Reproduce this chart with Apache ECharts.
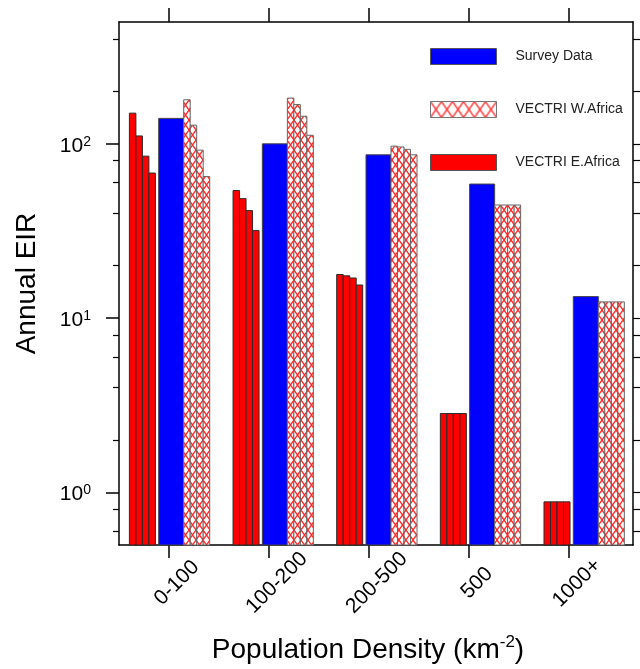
<!DOCTYPE html>
<html>
<head>
<meta charset="utf-8">
<script src="https://cdn.jsdelivr.net/npm/echarts@6/dist/echarts.min.js"></script>
<style>
html,body{margin:0;padding:0;background:#fff;}
#chart{width:640px;height:669px;}
</style>
</head>
<body>
<div id="chart"></div>
<script>
// ---------------- data ----------------
const categories = ['0-100', '100-200', '200-500', '500', '1000+'];
const surveyData = [140, 100, 86.5, 58.8, 13.3];
const westAfrica = [
  [179, 128, 92, 65],
  [183, 168, 144, 112],
  [97, 96, 93, 86.5],
  [44.6, 44.6, 44.6, 44.6],
  [12.4, 12.4, 12.4, 12.4]
];
const eastAfrica = [
  [150, 111, 85, 68],
  [54, 48.5, 41.4, 31.8],
  [17.8, 17.5, 17.0, 15.5],
  [2.84, 2.84, 2.84, 2.84],
  [0.884, 0.884, 0.884, 0.884]
];
const yMajorTicks = [1, 10, 100];
const yMinorTicks = [0.6, 0.8, 2, 4, 6, 8, 20, 40, 60, 80, 200, 400];
const xTickValues = [0, 1, 2, 3, 4];

// ---------------- layout constants ----------------
const Y_MIN = 0.5, Y_MAX = 500;
const X_MIN = -0.5, X_MAX = 4.64;
const GROUP_STEP = 1.0365, GROUP_OFF = -0.103;
const SUB_W = 0.065, BLUE_W = 0.25, RED_OFF = -0.293;
const LABEL_SHIFT = 0.08;
const FONT = '"Liberation Sans", Arial, Helvetica, sans-serif';

function makeHatch(w, h, color, lw) {
  const c = document.createElement('canvas');
  c.width = w; c.height = h;
  const ctx = c.getContext('2d');
  ctx.fillStyle = '#ffffff';
  ctx.fillRect(0, 0, w, h);
  ctx.strokeStyle = color;
  ctx.lineWidth = lw;
  ctx.beginPath();
  ctx.moveTo(0, 0); ctx.lineTo(w, h);
  ctx.moveTo(w, 0); ctx.lineTo(0, h);
  ctx.stroke();
  return c;
}
const hatchBar = { image: makeHatch(7, 10, '#ff2a2a', 1.3), repeat: 'repeat' };
const hatchLegend = { image: makeHatch(11, 16, '#ff2a2a', 1.3), repeat: 'repeat' };

function groupStart(cat) { return GROUP_OFF + GROUP_STEP * cat; }

function rectItem(api, x0, w, v, style) {
  const p1 = api.coord([x0, v]);
  const p2 = api.coord([x0 + w, Y_MIN]);
  return {
    type: 'rect',
    shape: { x: p1[0], y: p1[1], width: p2[0] - p1[0], height: p2[1] - p1[1] },
    style: style
  };
}

const redData = [], westData = [], blueData = [];
eastAfrica.forEach((arr, c) => arr.forEach((v, s) => redData.push([c, s, v])));
westAfrica.forEach((arr, c) => arr.forEach((v, s) => westData.push([c, s, v])));
surveyData.forEach((v, c) => blueData.push([c, 0, v]));

const redStyle = { fill: '#ff0000', stroke: '#2a2a2a', lineWidth: 1 };
const blueStyle = { fill: '#0000ff', stroke: '#444444', lineWidth: 1 };
const westStyle = { fill: hatchBar, stroke: '#666666', lineWidth: 1 };

const chart = echarts.init(document.getElementById('chart'), null, { renderer: 'canvas' });

const supLabel = v => '{b|10}{s|' + Math.round(Math.log10(v)) + '}';

const option = {
  animation: false,
  backgroundColor: '#ffffff',
  grid: { left: 119, right: 7, top: 22, bottom: 124, containLabel: false },
  legend: {
    orient: 'vertical', left: 430, top: 48, padding: 0,
    itemWidth: 66, itemHeight: 16, itemGap: 36,
    selectedMode: false, icon: 'rect',
    textStyle: { fontSize: 14, color: '#222', fontFamily: FONT, padding: [0, 0, 0, 14] },
    data: [
      { name: 'Survey Data', itemStyle: { color: '#0000ff', borderColor: '#555', borderWidth: 1 } },
      { name: 'VECTRI W.Africa', itemStyle: { color: hatchLegend, borderColor: '#777', borderWidth: 1 } },
      { name: 'VECTRI E.Africa', itemStyle: { color: '#ff0000', borderColor: '#555', borderWidth: 1 } }
    ]
  },
  xAxis: [
    {
      type: 'value', position: 'bottom', min: X_MIN, max: X_MAX,
      name: '{a|Population Density (km}{s|-2}{a|)}',
      nameLocation: 'middle', nameGap: 89,
      nameTextStyle: {
        padding: [0, 16, 0, 0],
        rich: {
          a: { fontSize: 28, fontFamily: FONT, color: '#000', lineHeight: 32 },
          s: { fontSize: 17, fontFamily: FONT, color: '#000', verticalAlign: 'top', lineHeight: 17 }
        }
      },
      axisLine: { show: true, onZero: false, lineStyle: { color: '#000', width: 1.5 } },
      axisTick: { show: true, inside: false, length: 13, customValues: xTickValues, lineStyle: { color: '#000', width: 1.5 } },
      axisLabel: {
        show: true, customValues: xTickValues.map(v => v + LABEL_SHIFT), rotate: 45, margin: 38,
        align: 'center', verticalAlign: 'middle',
        fontSize: 21, fontFamily: FONT, color: '#000',
        formatter: v => categories[Math.round(v)]
      },
      splitLine: { show: false }
    },
    {
      type: 'value', position: 'top', min: X_MIN, max: X_MAX,
      axisLine: { show: true, onZero: false, lineStyle: { color: '#000', width: 1.5 } },
      axisTick: { show: true, inside: false, length: 14, customValues: xTickValues, lineStyle: { color: '#000', width: 1.5 } },
      axisLabel: { show: false },
      splitLine: { show: false }
    }
  ],
  yAxis: [
    {
      type: 'log', logBase: 10, position: 'left', min: Y_MIN, max: Y_MAX,
      name: 'Annual EIR', nameLocation: 'middle', nameGap: 78, nameRotate: 90,
      nameTextStyle: { fontSize: 28, fontFamily: FONT, color: '#000' },
      axisLine: { show: true, onZero: false, lineStyle: { color: '#000', width: 1.5 } },
      axisTick: { show: true, inside: false, length: 13, customValues: yMajorTicks, lineStyle: { color: '#000', width: 1.5 } },
      axisLabel: {
        show: true, customValues: yMajorTicks, margin: 28,
        formatter: supLabel,
        padding: [4, 0, 0, 0],
        rich: {
          b: { fontSize: 21, fontFamily: FONT, color: '#000', lineHeight: 22 },
          s: { fontSize: 14, fontFamily: FONT, color: '#000', verticalAlign: 'top', lineHeight: 14 }
        }
      },
      splitLine: { show: false },
      minorTick: { show: false }
    },
    {
      type: 'log', logBase: 10, position: 'left', min: Y_MIN, max: Y_MAX,
      axisLine: { show: false, onZero: false },
      axisTick: { show: true, inside: false, length: 6, customValues: yMinorTicks, lineStyle: { color: '#000', width: 1.2 } },
      axisLabel: { show: false },
      splitLine: { show: false }
    },
    {
      type: 'log', logBase: 10, position: 'right', min: Y_MIN, max: Y_MAX,
      axisLine: { show: true, onZero: false, lineStyle: { color: '#000', width: 1.5 } },
      axisTick: { show: true, inside: false, length: 7, customValues: yMajorTicks.concat(yMinorTicks), lineStyle: { color: '#000', width: 1.2 } },
      axisLabel: { show: false },
      splitLine: { show: false }
    }
  ],
  series: [
    {
      name: 'Survey Data', type: 'custom', xAxisIndex: 0, yAxisIndex: 0,
      dimensions: ['cat', 'sub', 'value'], encode: { x: 0, y: 2 },
      itemStyle: { color: '#0000ff' },
      data: blueData,
      renderItem: (params, api) => rectItem(api, groupStart(api.value(0)), BLUE_W, api.value(2), blueStyle)
    },
    {
      name: 'VECTRI W.Africa', type: 'custom', xAxisIndex: 0, yAxisIndex: 0,
      dimensions: ['cat', 'sub', 'value'], encode: { x: 0, y: 2 },
      itemStyle: { color: hatchLegend },
      data: westData,
      renderItem: (params, api) => rectItem(api, groupStart(api.value(0)) + BLUE_W + api.value(1) * SUB_W, SUB_W, api.value(2), westStyle)
    },
    {
      name: 'VECTRI E.Africa', type: 'custom', xAxisIndex: 0, yAxisIndex: 0,
      dimensions: ['cat', 'sub', 'value'], encode: { x: 0, y: 2 },
      itemStyle: { color: '#ff0000' },
      data: redData,
      renderItem: (params, api) => rectItem(api, groupStart(api.value(0)) + RED_OFF + api.value(1) * SUB_W, SUB_W, api.value(2), redStyle)
    }
  ]
};
chart.setOption(option);
</script>
</body>
</html>
